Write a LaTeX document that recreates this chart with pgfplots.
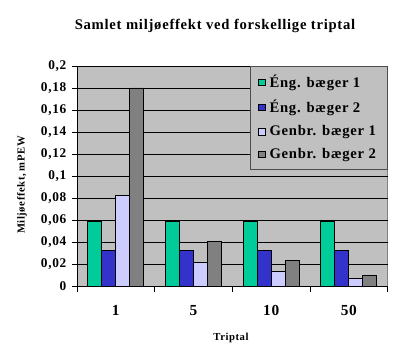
\documentclass[border=0pt]{standalone}
\usepackage{fontspec}
\setmainfont{Liberation Serif}[LetterSpace=5]
\usepackage{pgfplots}
\pgfplotsset{compat=1.18}
\definecolor{cA}{HTML}{00CC99}
\definecolor{cB}{HTML}{3333CC}
\definecolor{cC}{HTML}{CCCCFF}
\definecolor{cD}{HTML}{808080}
\definecolor{bg}{HTML}{C0C0C0}
\begin{document}
\begin{tikzpicture}
\begin{axis}[name=ax, scale only axis, width=233pt, height=165pt,
  xmin=-0.5, xmax=3.5, ymin=0, ymax=0.2,
  axis background/.style={fill=bg, draw=cD},
  axis x line*=bottom, axis y line*=left,
  axis line style={black, line width=0.6pt},
  ybar=0pt, bar width=10.5pt,
  xtick={0,1,2,3}, xticklabels={1,5,10,50},
  major x tick style={draw=none},
  minor xtick={-0.5,0.5,1.5,2.5,3.5},
  minor x tick style={black, line width=0.6pt},
  minor tick length=4.5pt,
  ytick={0,0.02,0.04,0.06,0.08,0.1,0.12,0.14,0.16,0.18,0.2},
  yticklabels={0,{0,02},{0,04},{0,06},{0,08},{0,1},{0,12},{0,14},{0,16},{0,18},{0,2}},
  major y tick style={black, line width=0.6pt},
  major tick length=3.5pt,
  tick align=outside,
  ymajorgrids, major grid style={black, line width=0.6pt},
  yticklabel style={font=\bfseries\fontsize{10}{12}\selectfont, anchor=east, xshift=-1pt},
  xticklabel style={font=\bfseries\fontsize{11.5}{13}\selectfont, anchor=base, yshift=-19pt},
  legend style={at={(1,1)}, anchor=north east, fill=bg, draw=black!70, line width=0.6pt,
    font=\bfseries\fontsize{11}{13}\selectfont, row sep=4pt, inner xsep=5.5pt, inner ysep=4.5pt,
    legend cell align=left, nodes={inner xsep=3pt}},
  legend image code/.code={\draw[#1, draw=black, line width=0.5pt] (0pt,-2.4pt) rectangle (5pt,2.6pt);},
  every axis plot/.append style={draw=black, line width=0.6pt},
]
\addplot[fill=cA] coordinates {(0,0.059) (1,0.059) (2,0.059) (3,0.059)};
\addplot[fill=cB] coordinates {(0,0.032) (1,0.032) (2,0.032) (3,0.032)};
\addplot[fill=cC] coordinates {(0,0.0825) (1,0.0215) (2,0.0133) (3,0.007)};
\addplot[fill=cD] coordinates {(0,0.18) (1,0.0406) (2,0.0233) (3,0.0097)};
\legend{Éng. bæger 1, Éng. bæger 2, Genbr. bæger 1, Genbr. bæger 2}
\end{axis}
\node[font=\bfseries\fontsize{11}{13}\selectfont, anchor=base] at ([xshift=-13pt, yshift=27pt]ax.north) {Samlet miljøeffekt ved forskellige triptal};
\node[font=\bfseries\fontsize{8}{10}\selectfont, rotate=90, anchor=center] at ([xshift=-41.25pt, yshift=-6.75pt]ax.west) {Miljøeffekt, mPEW};
\node[font=\bfseries\fontsize{8}{10}\selectfont, anchor=base] at ([xshift=-1pt, yshift=-41.25pt]ax.south) {Triptal};
\pgfresetboundingbox
\path ([shift={(-57.75pt,-50.25pt)}]ax.south west) rectangle ([shift={(246pt,214.5pt)}]ax.south west);
\end{tikzpicture}
\end{document}
